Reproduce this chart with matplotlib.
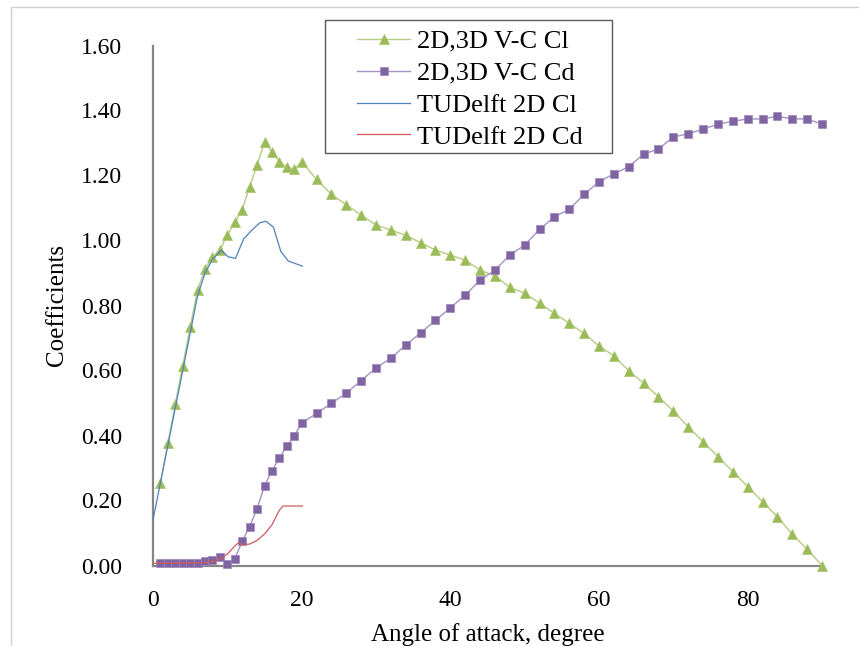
import matplotlib
matplotlib.use("Agg")
import matplotlib.pyplot as plt
from matplotlib.patches import Rectangle

# angles of attack for the V-C model (1..20 by 1, then 22..90 by 2)
alpha_vc = list(range(1, 21)) + list(range(22, 91, 2))

cl_vc = [0.255, 0.376, 0.496, 0.615, 0.733, 0.849, 0.911, 0.950, 0.971, 1.017,
         1.056, 1.095, 1.165, 1.232, 1.304, 1.273, 1.242, 1.226, 1.219, 1.242,
         1.188, 1.142, 1.110, 1.078, 1.048, 1.032, 1.016, 0.993, 0.971, 0.955,
         0.940, 0.909, 0.891, 0.856, 0.838, 0.807, 0.776, 0.745, 0.714, 0.675,
         0.645, 0.599, 0.561, 0.519, 0.475, 0.427, 0.381, 0.335, 0.289, 0.243,
         0.196, 0.150, 0.096, 0.050, 0.000]

cd_vc = [0.009, 0.009, 0.009, 0.009, 0.009, 0.009, 0.013, 0.017, 0.025, 0.005,
         0.021, 0.074, 0.120, 0.175, 0.245, 0.292, 0.330, 0.368, 0.399, 0.438,
         0.468, 0.499, 0.530, 0.569, 0.608, 0.638, 0.678, 0.716, 0.754, 0.793,
         0.832, 0.878, 0.909, 0.955, 0.986, 1.034, 1.073, 1.096, 1.142, 1.181,
         1.205, 1.227, 1.266, 1.281, 1.319, 1.328, 1.343, 1.358, 1.367, 1.374,
         1.374, 1.382, 1.374, 1.374, 1.358]

# TUDelft 2D reference data
alpha_tud_cl = [0, 1, 2, 3, 4, 5, 6, 7, 8, 9.2, 10.1, 11.1, 12.2, 13.3, 14.4,
                15.2, 16.2, 17.2, 18.2, 20.1]
cl_tud = [0.14, 0.255, 0.37, 0.485, 0.60, 0.715, 0.83, 0.90, 0.942, 0.970,
          0.950, 0.945, 1.005, 1.032, 1.055, 1.059, 1.041, 0.966, 0.937, 0.921]

alpha_tud_cd = [0, 2, 4, 6, 7, 8, 9, 10, 11, 11.5, 12, 13, 14, 15, 16, 17,
                17.5, 18, 20.1]
cd_tud = [0.007, 0.007, 0.007, 0.008, 0.009, 0.012, 0.020, 0.035, 0.060, 0.070,
          0.064, 0.066, 0.077, 0.097, 0.125, 0.170, 0.183, 0.183, 0.183]

W, H = 859, 646
fig = plt.figure(figsize=(W / 100, H / 100), dpi=100)
plt.rcParams['font.family'] = ['Liberation Serif', 'DejaVu Serif']

ax = fig.add_axes([153 / W, 1 - 565.5 / H, (822 - 153) / W, (565.5 - 45.5) / H])

ax.plot(alpha_vc, cl_vc, color='#B3CD80', lw=1.0, marker='^', ms=6.8,
        markerfacecolor='#9BBB59', markeredgecolor='#A9C56E', markeredgewidth=0.5,
        label='2D,3D V-C Cl', clip_on=False, zorder=3)
ax.plot(alpha_vc, cd_vc, color='#A392C6', lw=1.0, marker='s', ms=5.2,
        markerfacecolor='#8064A2', markeredgecolor='#9A84BC', markeredgewidth=0.5,
        label='2D,3D V-C Cd', clip_on=False, zorder=3)
ax.plot(alpha_tud_cl, cl_tud, color='#4F81BD', lw=0.9, label='TUDelft 2D Cl', zorder=4)
ax.plot(alpha_tud_cd, cd_tud, color='#D05A5A', lw=0.9, label='TUDelft 2D Cd', zorder=4)

ax.set_xlim(0, 90)
ax.set_ylim(0, 1.6)
ax.set_xticks([0, 20, 40, 60, 80])
ax.set_yticks([i * 0.2 for i in range(9)])
ax.set_yticklabels(['%.2f' % (i * 0.2) for i in range(9)])
ax.tick_params(axis='both', length=0, labelsize=17)
ax.tick_params(axis='y', pad=22)
ax.tick_params(axis='x', pad=18)

for s in ['top', 'right']:
    ax.spines[s].set_visible(False)
for s in ['left', 'bottom']:
    ax.spines[s].set_color('#868686')
    ax.spines[s].set_linewidth(1.6)

ax.set_xlabel('Angle of attack, degree', fontsize=18, labelpad=8)
fig.text(57 / W, 1 - 305 / H, 'Coefficients', fontsize=18, rotation=90,
         ha='center', va='center')

# legend with a hand drawn frame
leg = fig.legend(loc='upper left', bbox_to_anchor=(339 / W, 1 - 11 / H),
                 frameon=False, fontsize=19, numpoints=1, handlelength=2.0,
                 handletextpad=0.25, labelspacing=0.32, borderpad=0.2)
fig.patches.append(Rectangle((325 / W, 1 - 153 / H), 287 / W, 133 / H,
                             transform=fig.transFigure, fill=False,
                             edgecolor='#595959', lw=1.0))

# outer chart border
fig.patches.append(Rectangle((11 / W, -0.05), 1.1, 1 - 7 / H + 0.05,
                             transform=fig.transFigure, fill=False,
                             edgecolor='#D0D0D0', lw=1.0))

fig.savefig('out.png', dpi=100)
